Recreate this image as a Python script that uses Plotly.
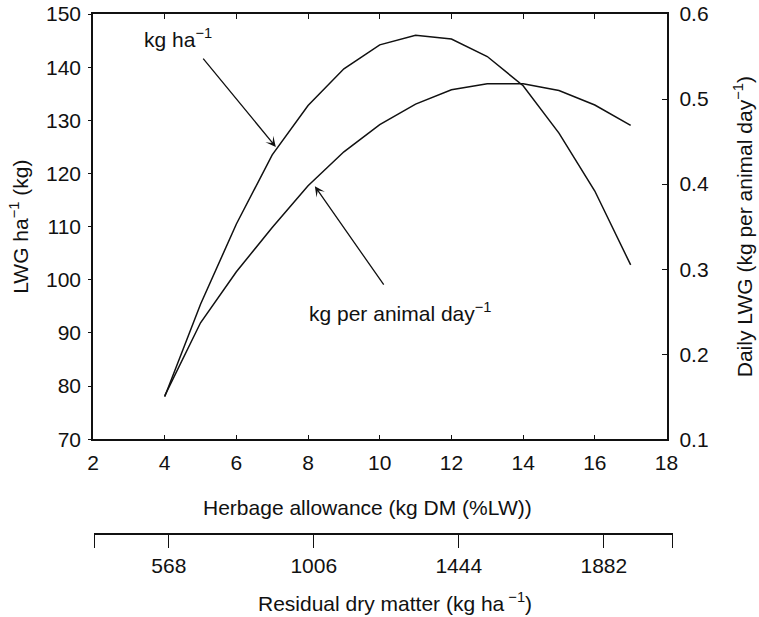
import plotly.graph_objects as go

# ---- data ----
herbage_allowance = [4, 5, 6, 7, 8, 9, 10, 11, 12, 13, 14, 15, 16, 17]
lwg_per_ha = [78.0, 95.4, 110.5, 123.5, 132.8, 139.7, 144.2, 146.0, 145.3, 142.0, 136.5, 127.6, 116.7, 102.8]
daily_lwg = [0.151, 0.237, 0.297, 0.349, 0.398, 0.438, 0.470, 0.494, 0.511, 0.518, 0.518, 0.510, 0.493, 0.469]

residual_dm_ticks = [568, 1006, 1444, 1882]
residual_dm_range = [343, 2091]

FONT = "Liberation Sans, Arial, Helvetica, sans-serif"
FS = 21
INK = "#111111"

fig = go.Figure()
# invisible trace so the residual dry matter axis is drawn
fig.add_trace(go.Scatter(x=residual_dm_ticks, y=[None] * len(residual_dm_ticks), mode="markers",
                         xaxis="x2", yaxis="y", showlegend=False, hoverinfo="skip",
                         marker=dict(opacity=0)))
fig.add_trace(go.Scatter(x=herbage_allowance, y=lwg_per_ha, mode="lines",
                         line=dict(color=INK, width=1.5), xaxis="x", yaxis="y",
                         showlegend=False, hoverinfo="skip"))
fig.add_trace(go.Scatter(x=herbage_allowance, y=daily_lwg, mode="lines",
                         line=dict(color=INK, width=1.5), xaxis="x", yaxis="y2",
                         showlegend=False, hoverinfo="skip"))

end_ticks = [residual_dm_range[0] + 0.5, residual_dm_range[1] - 0.5]
W, H = 759, 617
ML, MR, MT, MB = 93, 86, 14, 83
PW, PH = W - ML - MR, H - MT - MB

def px(xs):  # screen x -> paper
    return (xs - ML) / PW

def py(ys):  # screen y -> paper
    return (H - MB - ys) / PH

fig.update_layout(
    width=W, height=H,
    margin=dict(l=ML, r=MR, t=MT, b=MB, autoexpand=False),
    paper_bgcolor="white", plot_bgcolor="rgba(0,0,0,0)",
    font=dict(family=FONT, size=FS, color=INK),
    showlegend=False,
    xaxis=dict(domain=[0, px(666.5)], range=[2, 18], dtick=2, tick0=2,
               showline=True, linecolor=INK, linewidth=1.5, mirror="ticks",
               ticks="inside", ticklen=5, tickwidth=1.2, tickcolor=INK,
               showgrid=False, zeroline=False, anchor="y", automargin=False,
               ticklabelstandoff=4, ticklabeloverflow="allow"),
    yaxis=dict(domain=[py(439.3), 1], range=[70, 150], dtick=10,
               showline=True, linecolor=INK, linewidth=1.5,
               ticks="outside", ticklen=3, tickwidth=1.2, tickcolor=INK,
               showgrid=False, zeroline=False, anchor="x", automargin=False,
               ticklabelstandoff=3, ticklabeloverflow="allow",
               title=dict(text="LWG ha<sup>−1</sup> (kg)", standoff=12, font=dict(size=FS))),
    yaxis2=dict(range=[0.1, 0.6], dtick=0.1, tickformat=".1f", overlaying="y", side="right",
                anchor="x", showline=True, linecolor=INK, linewidth=1.5,
                ticks="inside", ticklen=5, tickwidth=1.2, tickcolor=INK,
                showgrid=False, zeroline=False, ticklabelstandoff=7, automargin=False,
                ticklabeloverflow="allow",
                title=dict(text="Daily LWG (kg per animal day<sup>−1</sup>)", standoff=29,
                           font=dict(size=FS))),
    xaxis2=dict(domain=[px(94.3), 1], range=residual_dm_range, anchor="free", position=0,
                tickmode="array",
                tickvals=[end_ticks[0]] + residual_dm_ticks + [end_ticks[1]],
                ticktext=[""] + [str(v) for v in residual_dm_ticks] + [""],
                showline=True, linecolor=INK, linewidth=1.5,
                ticks="outside", ticklen=13, tickwidth=1.2, tickcolor=INK,
                showgrid=False, zeroline=False, ticklabelstandoff=0, automargin=False,
                ticklabeloverflow="allow"),
    annotations=[
        dict(text="Herbage allowance (kg DM (%LW))", xref="paper", yref="paper",
             x=px(367), y=py(507), xanchor="center", yanchor="middle",
             showarrow=False, font=dict(size=FS)),
        dict(text="Residual dry matter (kg ha<sup> −1</sup>)", xref="paper", yref="paper",
             x=px(395), y=py(602), xanchor="center", yanchor="middle",
             showarrow=False, font=dict(size=FS)),
        dict(text="kg ha<sup>−1</sup>", xref="x", yref="y", x=4.37, y=145.4,
             showarrow=False, font=dict(size=FS)),
        dict(text="", xref="x", yref="y", x=7.10, y=125.0, axref="x", ayref="y",
             ax=5.04, ay=141.9, showarrow=True, arrowhead=3, arrowsize=1.3,
             arrowwidth=1.3, arrowcolor=INK, standoff=0),
        dict(text="kg per animal day<sup>−1</sup>", xref="x", yref="y", x=10.59, y=93.9,
             showarrow=False, font=dict(size=FS)),
        dict(text="", xref="x", yref="y", x=8.19, y=117.6, axref="x", ayref="y",
             ax=10.14, ay=98.8, showarrow=True, arrowhead=3, arrowsize=1.3,
             arrowwidth=1.3, arrowcolor=INK, standoff=0),
    ],
)

# remove the browser's default 8px page margin so the figure fills the window exactly
fig.write_html("out.html", config={"displayModeBar": False},
               post_script="document.body.style.margin='0';document.body.style.overflow='hidden';")
